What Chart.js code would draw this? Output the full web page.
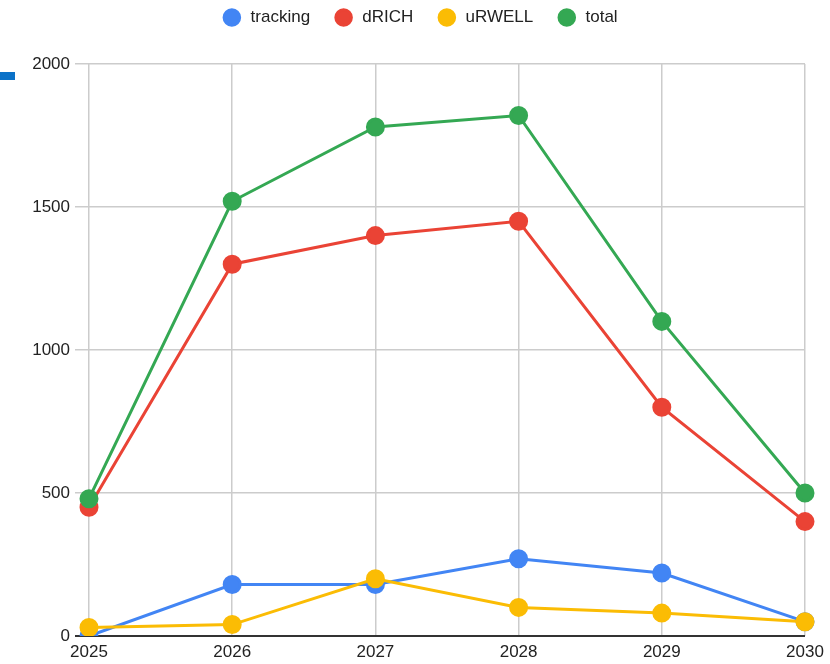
<!DOCTYPE html>
<html>
<head>
<meta charset="utf-8">
<script src="https://cdn.jsdelivr.net/npm/chart.js@4"></script>
<style>
  html, body { margin: 0; padding: 0; background: #fff; }
  #wrap { position: relative; width: 830px; height: 664px; }
  #mark { position: absolute; left: 0; top: 72px; width: 15px; height: 8px; background: #0b72c8; }
</style>
</head>
<body>
<div id="wrap">
  <canvas id="chart" width="830" height="664"></canvas>
  <div id="mark"></div>
</div>
<script>
  // values
  const years = ['2025', '2026', '2027', '2028', '2029', '2030'];
  const tracking = [0, 180, 180, 270, 220, 50];
  const dRICH = [450, 1300, 1400, 1450, 800, 400];
  const uRWELL = [30, 40, 200, 100, 80, 50];
  const total = [480, 1520, 1780, 1820, 1100, 500];
  const yTicks = [0, 500, 1000, 1500, 2000];

  const FONT = 'Liberation Sans, Arial, sans-serif';

  function series(label, data, color, order) {
    return {
      label: label,
      data: data,
      borderColor: color,
      backgroundColor: color,
      pointBackgroundColor: color,
      pointBorderColor: color,
      borderWidth: 3,
      pointRadius: 8,
      pointHoverRadius: 8,
      tension: 0,
      order: order
    };
  }

  const ctx = document.getElementById('chart').getContext('2d');
  new Chart(ctx, {
    type: 'line',
    data: {
      labels: years,
      datasets: [
        series('tracking', tracking, '#4285F4', 4),
        series('dRICH', dRICH, '#EA4335', 3),
        series('uRWELL', uRWELL, '#FBBC04', 2),
        series('total', total, '#34A853', 1)
      ]
    },
    options: {
      responsive: false,
      animation: false,
      layout: { padding: { left: 14, right: 0, top: -19, bottom: 0 } },
      plugins: {
        legend: {
          position: 'top',
          weight: 3000,
          labels: {
            usePointStyle: true,
            pointStyle: 'circle',
            boxWidth: 11,
            boxHeight: 11,
            padding: 28,
            color: '#222',
            font: { family: FONT, size: 17 },
            sort: function(a, b) { return a.datasetIndex - b.datasetIndex; },
            generateLabels: function(chart) {
              const items = Chart.defaults.plugins.legend.labels.generateLabels(chart);
              items.forEach(function(it) { it.text = ' ' + it.text; });
              return items;
            }
          }
        },
        // empty spacer between legend and plot
        subtitle: {
          display: true,
          text: '',
          font: { size: 1, lineHeight: 1 },
          padding: { top: 0, bottom: 27 }
        },
        tooltip: { enabled: false }
      },
      scales: {
        x: {
          grid: {
            color: '#cccccc',
            lineWidth: 1.5,
            drawTicks: false
          },
          border: { display: false },
          ticks: {
            color: '#222',
            padding: 6,
            maxRotation: 0,
            font: { family: FONT, size: 17 }
          },
          afterFit: function(scale) {
            scale.height = 28;
            scale.paddingRight = 25;
          }
        },
        y: {
          min: 0,
          max: 2000,
          afterBuildTicks: function(scale) {
            scale.ticks = yTicks.map(v => ({ value: v }));
          },
          grid: {
            color: function(c) { return c.tick && c.tick.value === 0 ? '#333333' : '#cccccc'; },
            lineWidth: function(c) { return c.tick && c.tick.value === 0 ? 2 : 1.5; },
            tickLength: 14
          },
          border: { display: false },
          ticks: {
            color: '#222',
            padding: 5,
            font: { family: FONT, size: 17 },
            callback: function(v) { return String(v); }
          },
          afterFit: function(scale) { scale.width = 75; }
        }
      }
    }
  });
</script>
</body>
</html>
